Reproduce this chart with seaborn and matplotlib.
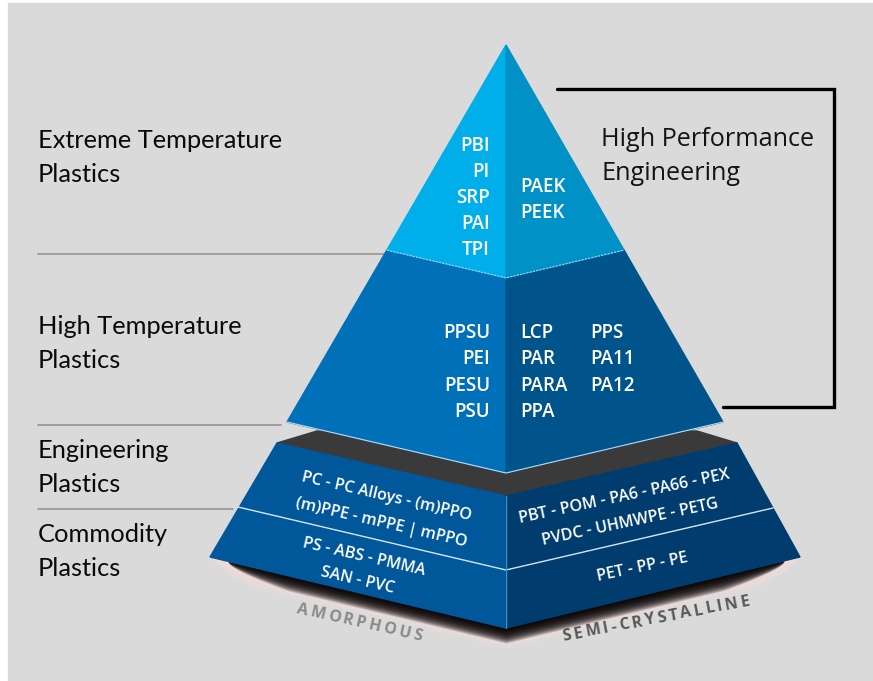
import numpy as np
import matplotlib
matplotlib.use("Agg")
import matplotlib.pyplot as plt
import seaborn as sns
import pandas as pd
from matplotlib.patches import Polygon, Rectangle

# ---------------- data ----------------
tier_labels = [["Extreme Temperature", "Plastics"], ["High Temperature", "Plastics"],
               ["Engineering", "Plastics"], ["Commodity", "Plastics"]]
extreme_amorphous = ["PBI", "PI", "SRP", "PAI", "TPI"]
extreme_semicryst = ["PAEK", "PEEK"]
hightemp_amorphous = ["PPSU", "PEI", "PESU", "PSU"]
hightemp_semicryst_a = ["LCP", "PAR", "PARA", "PPA"]
hightemp_semicryst_b = ["PPS", "PA11", "PA12"]
engineering_amorphous = ["PC - PC Alloys - (m)PPO", "(m)PPE - mPPE | mPPO"]
engineering_semicryst = ["PBT - POM - PA6 - PA66 - PEX", "PVDC - UHMWPE - PETG"]
commodity_amorphous = ["PS - ABS - PMMA", "SAN - PVC"]
commodity_semicryst = ["PET - PP - PE"]
structure_labels = ["AMORPHOUS", "SEMI-CRYSTALLINE"]
bracket_label = ["High Performance", "Engineering"]

# ---------------- style ----------------
sns.set_theme(style="white")
plt.rcParams['font.family'] = ['Open Sans', 'DejaVu Sans']

BG = "#dadada"
C_TOP_L, C_TOP_R = "#00aeea", "#0092c6"
C_MID_L, C_MID_R = "#0070b8", "#00548c"
C_BASE_L, C_BASE_R = "#00579a", "#003d6e"
C_GREY = "#3a3a3a"

fig = plt.figure(figsize=(8.73, 6.81), dpi=100, facecolor="white")
ax = fig.add_axes([0, 0, 1, 1])
ax.add_patch(Rectangle((8, 3), 873, 681, color=BG, zorder=0))

# geometry of the pyramid (pixel space)
apex = np.array([506, 45])
pl, pr, pc = np.array([287, 422]), np.array([723, 422]), np.array([506, 473])
t_split = 0.544
def lerp(a, b, t):
    return a + (b - a) * t
sl, sr, sc = lerp(apex, pl, t_split), lerp(apex, pr, t_split), lerp(apex, pc, t_split)

# base frustum
btl, btr, bfc = np.array([277, 443]), np.array([737, 443]), np.array([506, 496])
bbl, bbr, bbc = np.array([210, 557]), np.array([800, 557]), np.array([506, 628])
dl, dr, dc = np.array([238, 507]), np.array([773, 508]), np.array([506, 570])

# shadow below base: stacked translucent bands
sx = np.linspace(205, 805, 601)
sedge = np.interp(sx, [bbl[0], bbc[0], bbr[0]], [bbl[1], bbc[1], bbr[1]])
taper_h = np.clip((sx - 212) / 40, 0, 1) * np.clip((798 - sx) / 40, 0, 1)
taper_c = np.clip((sx - 228) / 60, 0, 1) * np.clip((784 - sx) / 60, 0, 1)
for j in range(1, 10):
    ax.fill_between(sx, sedge - 2 * taper_h, sedge + 21 * taper_h ** 0.6 * j / 9,
                    color="#f7dede", alpha=0.2, lw=0, zorder=1)
for j in range(1, 19):
    ax.fill_between(sx, sedge - 2 * taper_c, sedge + 15 * taper_c ** 0.5 * j / 18,
                    color="#060202", alpha=0.16, lw=0, zorder=1.5)

# grey top face of base
ax.add_patch(Polygon([btl, (317, 431), (697, 431), btr, bfc], closed=True, color=C_GREY, zorder=2))
# base faces
ax.add_patch(Polygon([btl, bfc, bbc, bbl], closed=True, color=C_BASE_L, zorder=3))
ax.add_patch(Polygon([bfc, btr, bbr, bbc], closed=True, color=C_BASE_R, zorder=3))
ax.plot([dl[0], dc[0], dr[0]], [dl[1], dc[1], dr[1]], color="#d8e4ee", lw=1.0, zorder=4)
ax.plot([bfc[0], bbc[0]], [bfc[1], bbc[1]], color="#1fa0d8", lw=0.9, zorder=4)

# upper pyramid
ax.add_patch(Polygon([sl, sc, pc, pl], closed=True, color=C_MID_L, zorder=5))
ax.add_patch(Polygon([sc, sr, pr, pc], closed=True, color=C_MID_R, zorder=5))
ax.add_patch(Polygon([apex, sc, sl], closed=True, color=C_TOP_L, zorder=5))
ax.add_patch(Polygon([apex, sr, sc], closed=True, color=C_TOP_R, zorder=5))
ax.plot([sl[0], sc[0], sr[0]], [sl[1], sc[1], sr[1]], color="#9fd6ef", lw=0.8, ls=(0, (2, 1)), zorder=6)
ax.plot([pl[0], pc[0], pr[0]], [pl[1], pc[1], pr[1]], color="#bcd9ee", lw=0.8, zorder=6)

# separators on the left (seaborn lines)
sep = pd.DataFrame({"x": [38, 385, 38, 281, 38, 233],
                    "y": [254, 254, 425, 425, 509, 509],
                    "g": ["a", "a", "b", "b", "c", "c"]})
sns.lineplot(data=sep, x="x", y="y", units="g", estimator=None, color="#9a9a9a",
             lw=1.3, ax=ax, legend=False, sort=False)

# bracket
br = pd.DataFrame({"x": [557, 834, 834, 723], "y": [89, 89, 407, 407]})
sns.lineplot(data=br, x="x", y="y", color="black", lw=2.4, ax=ax, sort=False,
             estimator=None, legend=False)
ax.lines[-1].set_solid_joinstyle("miter")
ax.set_xlim(0, 873)
ax.set_ylim(681, 0)
ax.axis("off")

# left labels
tier_y = [141, 327, 450, 535]
for lines, y in zip(tier_labels, tier_y):
    for k, s in enumerate(lines):
        ax.text(38, y + 34 * k, s, fontsize=18.3, color="#0a0a0a", ha="left", va="center",
                family=["Lato", "DejaVu Sans"], zorder=10)

for k, s in enumerate(bracket_label):
    ax.text(601, 140 + 33 * k, s, fontsize=18.2, color="#141414", ha="left",
            va="center", zorder=10)

# pyramid labels
tp = dict(color="white", fontsize=13.5, fontweight="semibold", zorder=10, va="center")
for i, s in enumerate(extreme_amorphous):
    ax.text(490, 146 + 26 * i, s, ha="right", **tp)
for i, s in enumerate(extreme_semicryst):
    ax.text(520, 187 + 26 * i, s, ha="left", **tp)
for i, s in enumerate(hightemp_amorphous):
    ax.text(490, 333 + 26.3 * i, s, ha="right", **tp)
for i, s in enumerate(hightemp_semicryst_a):
    ax.text(520, 333 + 26.3 * i, s, ha="left", **tp)
for i, s in enumerate(hightemp_semicryst_b):
    ax.text(590, 333 + 26.3 * i, s, ha="left", **tp)

bp = dict(color="white", fontsize=11.5, fontweight="semibold", zorder=10,
          ha="center", va="center", rotation_mode="anchor")
for s, (x, y) in zip(engineering_amorphous, [(387, 497), (381, 523)]):
    ax.text(x, y, s, rotation=-13, **bp)
for s, (x, y) in zip(commodity_amorphous, [(364, 557), (358, 581)]):
    ax.text(x, y, s, rotation=-13, **bp)
for s, (x, y) in zip(engineering_semicryst, [(624, 497), (630, 522)]):
    ax.text(x, y, s, rotation=12, **bp)
for s, (x, y) in zip(commodity_semicryst, [(642, 567)]):
    ax.text(x, y, s, rotation=12, **bp)

# tracked (letter-spaced) text along a rotated baseline
renderer = fig.canvas.get_renderer()
def tracked(text, cx, cy, angle, total, **kw):
    widths = []
    for ch in text:
        t = ax.text(0, 0, ch, **kw)
        widths.append(t.get_window_extent(renderer).width)
        t.remove()
    gap = (total - sum(widths)) / (len(text) - 1)
    a = np.deg2rad(angle)
    ux, uy = np.cos(a), -np.sin(a)   # screen y is downward in data coords
    pos = -total / 2
    for ch, w in zip(text, widths):
        m = pos + w / 2
        ax.text(cx + ux * m, cy + uy * m, ch, rotation=angle, ha="center", va="center",
                rotation_mode="anchor", zorder=10, **kw)
        pos += w + gap

tracked(structure_labels[0], 359, 623, -13, 128, color="#8a8a8a", fontsize=11.5,
        fontweight="bold")
tracked(structure_labels[1], 656, 619, 10.8, 190, color="#585858", fontsize=11.5,
        fontweight="bold")

fig.savefig("out.png", dpi=100, facecolor="white")
